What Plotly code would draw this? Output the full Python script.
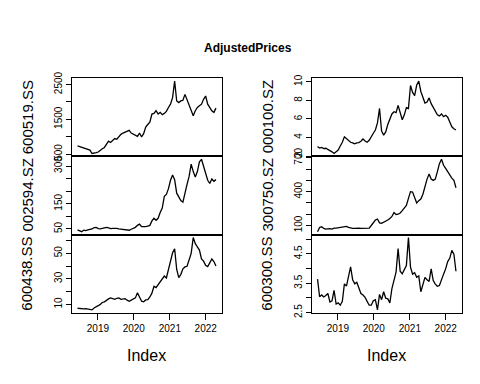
import plotly.graph_objects as go
import pandas as pd

dates = pd.date_range("2018-06-08", periods=68, freq="21D")

s600519 = [737, 718, 699, 680, 671, 652, 614, 515, 520, 539,
           557, 614, 652, 689, 784, 869, 831, 897, 944, 925,
           1010, 1067, 1104, 1133, 1161, 1180, 1104, 1067, 1038, 1010,
           1104, 991, 1086, 1274, 1350, 1416, 1651, 1670, 1746, 1651,
           1698, 1632, 1670, 1727, 1840, 1934, 2123, 2600, 2028, 1981,
           2028, 2047, 2217, 2076, 1887, 1793, 1604, 1746, 1840, 1887,
           1934, 2076, 2170, 1934, 1840, 1746, 1698, 1821]
s002594 = [46.2, 43.6, 39.0, 44.9, 43.6, 46.2, 47.4, 50.0, 55.1, 56.4,
           51.3, 50.0, 52.6, 55.1, 56.4, 53.8, 51.3, 52.6, 53.8, 52.6,
           50.0, 48.7, 46.2, 44.9, 43.6, 44.9, 48.7, 52.6, 56.4, 64.1,
           69.2, 59.0, 57.7, 59.0, 61.5, 64.1, 82.0, 92.3, 84.6, 92.3,
           115.4, 133.3, 179.5, 187.2, 210.3, 243.6, 264.1, 246.1, 192.3, 175.6,
           162.8, 156.4, 197.4, 226.9, 259.0, 307.7, 278.2, 256.4, 278.2, 316.7,
           327.0, 297.4, 265.4, 243.6, 230.8, 248.7, 239.7, 246.1]
s600438 = [7.0, 6.7, 7.0, 6.5, 6.7, 6.5, 6.2, 5.7, 7.2, 7.9,
           9.0, 10.0, 11.5, 12.0, 13.5, 14.3, 15.1, 14.5, 14.0, 14.8,
           15.1, 14.0, 14.3, 14.5, 13.3, 12.5, 13.3, 14.0, 15.1, 19.1,
           15.6, 12.5, 12.0, 13.5, 13.8, 15.8, 18.8, 24.1, 23.1, 25.2,
           27.2, 30.2, 32.2, 30.7, 37.3, 43.3, 50.4, 53.4, 37.3, 31.0,
           33.5, 37.8, 39.3, 39.8, 44.3, 49.9, 62.3, 57.5, 55.0, 52.5,
           45.5, 43.8, 40.5, 39.5, 42.5, 45.5, 43.5, 40.0]
s000100 = [3.04, 2.87, 2.94, 2.80, 2.84, 2.73, 2.60, 2.46, 2.28, 2.53,
           2.66, 3.08, 3.49, 4.08, 3.91, 3.70, 3.49, 3.43, 3.32, 3.43,
           3.46, 3.60, 3.84, 3.63, 3.49, 3.70, 4.01, 4.46, 4.81, 5.57,
           7.13, 4.71, 4.26, 4.60, 5.40, 6.09, 6.54, 6.78, 6.68, 7.47,
           6.54, 5.92, 6.44, 7.23, 7.13, 9.60, 8.86, 8.51, 9.65, 10.08,
           8.96, 8.41, 7.72, 7.82, 8.27, 7.65, 7.23, 6.78, 6.44, 6.33,
           6.54, 6.26, 6.40, 6.19, 5.57, 5.15, 4.95, 4.81]
s300750 = [45.0, 82.9, 88.6, 74.3, 68.6, 71.4, 71.4, 68.6, 77.1, 77.1,
           80.0, 82.9, 85.7, 88.6, 91.4, 82.9, 77.1, 74.3, 74.3, 77.1,
           77.1, 74.3, 74.3, 77.1, 74.3, 77.1, 100.0, 120.0, 148.6, 157.1,
           122.9, 120.0, 128.6, 137.1, 148.6, 162.9, 180.0, 214.3, 197.1, 200.0,
           211.4, 231.4, 257.1, 277.1, 340.0, 400.0, 397.1, 348.6, 300.0, 320.0,
           334.3, 377.1, 448.6, 511.4, 557.1, 511.4, 500.0, 511.4, 577.1, 648.6,
           687.0, 634.3, 605.7, 577.1, 540.0, 520.0, 500.0, 434.3]
s600300 = [3.64, 3.04, 3.10, 3.03, 3.08, 3.15, 2.86, 2.90, 3.26, 2.79,
           2.83, 2.75, 2.88, 3.48, 3.40, 3.70, 4.06, 3.62, 3.48, 3.53,
           3.32, 3.15, 3.10, 3.02, 2.88, 2.75, 2.75, 2.90, 2.94, 2.59,
           3.12, 2.94, 3.21, 2.99, 2.97, 2.83, 3.32, 3.56, 3.88, 4.68,
           3.91, 3.82, 3.97, 4.10, 5.06, 4.05, 3.81, 3.86, 3.70, 3.75,
           3.21, 3.51, 3.70, 3.62, 3.56, 3.99, 3.59, 3.47, 3.40, 3.42,
           3.64, 3.81, 3.99, 4.24, 4.35, 4.62, 4.49, 3.91]

series_names = ["600519.SS", "002594.SZ", "600438.SS", "000100.SZ", "300750.SZ", "600300.SS"]
series_values = [s600519, s002594, s600438, s000100, s300750, s600300]

y_tickvals = [[500, 1000, 1500, 2000, 2500],
              [50, 100, 150, 200, 250, 300],
              [10, 20, 30, 40, 50, 60],
              [2, 4, 6, 8, 10],
              [100, 200, 300, 400, 500, 600, 700],
              [2.5, 3.0, 3.5, 4.0, 4.5, 5.0]]
y_ticktext = [["500", "", "1500", "", "2500"],
              ["50", "", "150", "", "", "300"],
              ["10", "", "30", "", "50", ""],
              ["2", "4", "6", "8", "10"],
              ["100", "", "", "400", "", "", "700"],
              ["2.5", "", "3.5", "", "4.5", ""]]

x_tickvals = ["2019-01-01", "2020-01-01", "2021-01-01", "2022-01-01"]
x_ticktext = ["2019", "2020", "2021", "2022"]

title_text = "AdjustedPrices"
xlab_text = "Index"

# ---- layout ----
W, H = 480, 384
FONT = "Liberation Sans, Arial, Helvetica, sans-serif"
col_px = [(64.0, 213.5), (304.0, 453.5)]
top_px, bot_px = 63.5, 307.0
ph = (bot_px - top_px) / 3.0
row_px = [(top_px + i * ph, top_px + (i + 1) * ph) for i in range(3)]

span = dates[-1] - dates[0]
xr = [dates[0] - 0.04 * span, dates[-1] + 0.04 * span]

fig = go.Figure()
layout = dict(width=W, height=H, margin=dict(l=0, r=0, t=0, b=0),
              paper_bgcolor="white", plot_bgcolor="white", showlegend=False,
              font=dict(family=FONT, color="black"))
annotations = []

for k in range(6):
    col, row = k // 3, k % 3
    n = k + 1
    xa = "xaxis" if n == 1 else f"xaxis{n}"
    ya = "yaxis" if n == 1 else f"yaxis{n}"
    xs = "x" if n == 1 else f"x{n}"
    ys = "y" if n == 1 else f"y{n}"
    vals = series_values[k]
    fig.add_trace(go.Scatter(x=dates, y=vals, mode="lines",
                             line=dict(color="black", width=1.3),
                             xaxis=xs, yaxis=ys, hoverinfo="skip"))
    x0, x1 = col_px[col]
    y0, y1 = row_px[row]
    bottom = (row == 2)
    layout[xa] = dict(domain=[x0 / W, x1 / W], anchor=ys, type="date", range=xr,
                      showline=True, mirror=True, linecolor="black", linewidth=1,
                      showgrid=False, zeroline=False,
                      ticks="outside" if bottom else "", ticklen=6, tickcolor="black",
                      showticklabels=bottom, tickvals=x_tickvals, ticktext=x_ticktext,
                      tickfont=dict(size=10, family=FONT, color="black"))
    vmin, vmax = min(vals), max(vals)
    pad = 0.04 * (vmax - vmin)
    layout[ya] = dict(domain=[1 - y1 / H, 1 - y0 / H], anchor=xs,
                      range=[vmin - pad, vmax + pad],
                      showline=True, mirror=True, linecolor="black", linewidth=1,
                      showgrid=False, zeroline=False,
                      ticks="outside", ticklen=5, tickcolor="black",
                      tickvals=y_tickvals[k], ticktext=y_ticktext[k], tickangle=-90,
                      tickfont=dict(size=10, family=FONT, color="black"))
    # series label on the left of each panel
    lab_x = 19 if col == 0 else 259
    annotations.append(dict(text=series_names[k], x=lab_x / W, y=1 - (y0 + y1) / 2 / H,
                            xref="paper", yref="paper", showarrow=False, textangle=-90,
                            xanchor="center", yanchor="middle",
                            font=dict(size=15, family=FONT, color="black")))

for col in range(2):
    x0, x1 = col_px[col]
    annotations.append(dict(text=xlab_text, x=(x0 + x1) / 2 / W, y=1 - 351 / H,
                            xref="paper", yref="paper", showarrow=False,
                            xanchor="center", yanchor="middle",
                            font=dict(size=16, family=FONT, color="black")))

annotations.append(dict(text="<b>" + title_text + "</b>", x=0.5, y=1 - 32 / H,
                        xref="paper", yref="paper", showarrow=False,
                        xanchor="center", yanchor="middle",
                        font=dict(size=12, family=FONT, color="black")))

layout["annotations"] = annotations
fig.update_layout(**layout)
fig.write_html("out.html")
